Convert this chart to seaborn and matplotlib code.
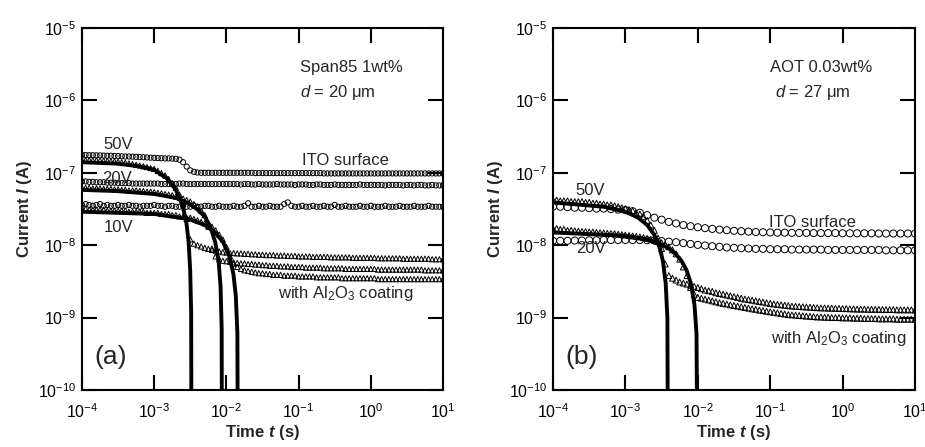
import numpy as np
import matplotlib
matplotlib.use('Agg')
import matplotlib.pyplot as plt
import seaborn as sns
from matplotlib.ticker import LogLocator, NullLocator

# log10(time / s) sampling of the measured points
T_LOG_FINE = [-4.00, -3.95, -3.90, -3.85, -3.80, -3.75, -3.70, -3.65, -3.60, -3.55,
              -3.50, -3.45, -3.40, -3.35, -3.30, -3.25, -3.20, -3.15, -3.10, -3.05,
              -3.00, -2.95, -2.90, -2.85, -2.80, -2.75, -2.70, -2.65, -2.60, -2.55,
              -2.50, -2.45, -2.40, -2.35, -2.30, -2.25, -2.20, -2.15, -2.10, -2.05,
              -2.00, -1.95, -1.90, -1.85, -1.80, -1.75, -1.70, -1.65, -1.60, -1.55,
              -1.50, -1.45, -1.40, -1.35, -1.30, -1.25, -1.20, -1.15, -1.10, -1.05,
              -1.00, -0.95, -0.90, -0.85, -0.80, -0.75, -0.70, -0.65, -0.60, -0.55,
              -0.50, -0.45, -0.40, -0.35, -0.30, -0.25, -0.20, -0.15, -0.10, -0.05,
              0.00, 0.05, 0.10, 0.15, 0.20, 0.25, 0.30, 0.35, 0.40, 0.45,
              0.50, 0.55, 0.60, 0.65, 0.70, 0.75, 0.80, 0.85, 0.90, 0.95,
              1.00]
T_LOG_COARSE = [-4.0, -3.9, -3.8, -3.7, -3.6, -3.5, -3.4, -3.3, -3.2, -3.1,
                -3.0, -2.9, -2.8, -2.7, -2.6, -2.5, -2.4, -2.3, -2.2, -2.1,
                -2.0, -1.9, -1.8, -1.7, -1.6, -1.5, -1.4, -1.3, -1.2, -1.1,
                -1.0, -0.9, -0.8, -0.7, -0.6, -0.5, -0.4, -0.3, -0.2, -0.1,
                0.0, 0.1, 0.2, 0.3, 0.4, 0.5, 0.6, 0.7, 0.8, 0.9,
                1.0]

# ---- panel (a): Span85 1wt%, currents in nA ----
ITO50_A = [176, 176, 175, 175, 174, 174, 173, 172, 172, 171,
           170, 169, 168, 168, 167, 166, 165, 164, 163, 162,
           161, 160, 159, 158, 158, 157, 156, 152, 140, 122,
           108, 103, 101, 100, 100, 100, 100, 100, 100, 100,
           100, 100, 100, 100, 100, 100, 100, 100, 99, 99,
           99, 99, 99, 99, 99, 99, 99, 99, 99, 99,
           99, 99, 99, 99, 99, 99, 99, 98, 98, 98,
           98, 98, 98, 98, 98, 98, 98, 98, 98, 98,
           98, 98, 98, 98, 98, 98, 98, 98, 98, 98,
           98, 98, 98, 98, 98, 98, 98, 98, 98, 98,
           98]
ITO20_A = [76, 76, 75, 75, 74, 74, 74, 73, 73, 73,
           72, 72, 72, 72, 71, 71, 71, 71, 71, 71,
           71, 71, 70, 70, 70, 70, 70, 71, 71, 70,
           70, 70, 70, 70, 70, 70, 70, 70, 70, 70,
           70, 70, 70, 70, 69, 70, 70, 69, 69, 70,
           69, 69, 69, 69, 70, 69, 69, 69, 69, 68,
           69, 69, 69, 68, 68, 69, 69, 68, 68, 68,
           69, 68, 68, 68, 68, 68, 68, 69, 68, 68,
           68, 68, 68, 68, 67, 68, 68, 68, 68, 67,
           68, 68, 67, 68, 68, 67, 67, 68, 67, 67,
           67]
ITO10_A = [36, 37, 36, 35, 36, 37, 35, 36, 35, 35,
           36, 35, 35, 36, 35, 35, 34, 35, 35, 35,
           36, 35, 35, 34, 35, 35, 34, 34, 35, 34,
           34, 35, 34, 34, 35, 35, 34, 34, 35, 34,
           34, 34, 35, 34, 34, 35, 38, 34, 34, 35,
           34, 34, 35, 34, 34, 34, 37, 39, 35, 34,
           34, 35, 34, 34, 35, 34, 34, 35, 34, 34,
           36, 34, 34, 35, 34, 34, 34, 35, 34, 34,
           35, 34, 34, 34, 35, 34, 34, 34, 35, 34,
           34, 34, 35, 34, 34, 34, 35, 34, 34, 34,
           34]
AL50_A = [150, 150, 150, 149, 149, 148, 147, 146, 145, 144,
          142, 140, 138, 135, 132, 129, 126, 123, 120, 116,
          113, 106, 99, 92, 82, 72, 62, 50, 37, 23,
          12, 10.5, 10, 9.6, 9.2, 8.9, 8.6, 8.4, 8.2, 8.0,
          7.9, 7.8, 7.8, 7.7, 7.7, 7.6, 7.6, 7.5, 7.5, 7.4,
          7.4, 7.3, 7.3, 7.3, 7.2, 7.2, 7.2, 7.1, 7.1, 7.1,
          7.0, 7.0, 7.0, 7.0, 6.9, 6.9, 6.9, 6.9, 6.9, 6.8,
          6.8, 6.8, 6.8, 6.8, 6.8, 6.7, 6.7, 6.7, 6.7, 6.7,
          6.7, 6.7, 6.6, 6.6, 6.6, 6.6, 6.6, 6.6, 6.6, 6.5,
          6.5, 6.5, 6.5, 6.5, 6.5, 6.5, 6.5, 6.4, 6.4, 6.4,
          6.4]
AL20_A = [62, 62, 62, 61, 61, 61, 60, 60, 60, 59,
          59, 58, 58, 57, 57, 57, 56, 56, 55, 55,
          54, 53, 52, 51, 50, 49, 47, 46, 44, 42,
          40, 37, 34, 30, 26, 18, 9, 7.0, 6.4, 6.1,
          6.0, 5.9, 5.8, 5.7, 5.6, 5.6, 5.5, 5.5, 5.4, 5.4,
          5.3, 5.3, 5.2, 5.2, 5.2, 5.1, 5.1, 5.1, 5.0, 5.0,
          5.0, 5.0, 4.9, 4.9, 4.9, 4.9, 4.9, 4.8, 4.8, 4.8,
          4.8, 4.8, 4.8, 4.7, 4.7, 4.7, 4.7, 4.7, 4.7, 4.7,
          4.7, 4.7, 4.6, 4.6, 4.6, 4.6, 4.6, 4.6, 4.6, 4.6,
          4.6, 4.6, 4.6, 4.6, 4.6, 4.5, 4.5, 4.5, 4.5, 4.5,
          4.5]
AL10_A = [32, 32, 31, 31, 31, 31, 31, 30, 30, 30,
          30, 30, 30, 29, 29, 29, 29, 29, 28, 28,
          28, 28, 27, 27, 27, 26, 26, 25, 25, 24,
          24, 23, 22, 21, 20, 19, 18, 16, 14, 12,
          9.5, 7.0, 5.5, 5.0, 4.7, 4.5, 4.4, 4.3, 4.2, 4.1,
          4.1, 4.0, 4.0, 3.9, 3.9, 3.9, 3.8, 3.8, 3.8, 3.8,
          3.7, 3.7, 3.7, 3.7, 3.7, 3.6, 3.6, 3.6, 3.6, 3.6,
          3.6, 3.6, 3.5, 3.5, 3.5, 3.5, 3.5, 3.5, 3.5, 3.5,
          3.5, 3.5, 3.4, 3.4, 3.4, 3.4, 3.4, 3.4, 3.4, 3.4,
          3.4, 3.4, 3.4, 3.4, 3.4, 3.4, 3.4, 3.4, 3.4, 3.4,
          3.4]
# fitted curves (time in s, current in nA)
FIT50_A_T = [1e-4, 3e-4, 6e-4, 1e-3, 1.5e-3, 2e-3, 2.5e-3, 2.8e-3, 3.0e-3, 3.15e-3, 3.25e-3, 3.3e-3]
FIT50_A_I = [140, 134, 124, 110, 84, 58, 34, 20, 11, 4.5, 1.2, 0.001]
FIT20_A_T = [1e-4, 3e-4, 1e-3, 2e-3, 3e-3, 4e-3, 5e-3, 6e-3, 7e-3, 7.8e-3, 8.3e-3, 8.6e-3, 8.7e-3]
FIT20_A_I = [58, 56, 51, 45, 38, 31, 25, 18, 11, 6, 2.7, 0.7, 0.001]
FIT10_A_T = [1e-4, 1e-3, 3e-3, 5e-3, 7e-3, 9e-3, 1.1e-2, 1.25e-2, 1.35e-2, 1.42e-2, 1.45e-2]
FIT10_A_I = [29, 27, 23, 19, 15, 11, 7, 4, 2, 0.6, 0.001]

# ---- panel (b): AOT 0.03wt%, currents in nA ----
ITO50_B = [34, 34, 33.5, 33, 33, 32.5, 32, 32, 31.5, 31,
           30.5, 29.5, 28, 26, 24, 22.5, 21, 20, 19, 18.3,
           17.7, 17.2, 16.8, 16.4, 16.1, 15.8, 15.6, 15.4, 15.2, 15.1,
           15.0, 14.9, 14.9, 14.8, 14.8, 14.8, 14.7, 14.7, 14.7, 14.7,
           14.6, 14.6, 14.6, 14.6, 14.6, 14.5, 14.5, 14.5, 14.5, 14.5,
           14.5]
ITO20_B = [11.5, 11.5, 11.5, 11.6, 11.6, 11.7, 11.7, 11.8, 11.8, 11.8,
           11.8, 11.8, 11.8, 11.7, 11.6, 11.4, 11.2, 11.0, 10.7, 10.4,
           10.1, 9.9, 9.7, 9.5, 9.3, 9.2, 9.1, 9.0, 8.9, 8.9,
           8.8, 8.8, 8.8, 8.7, 8.7, 8.7, 8.7, 8.7, 8.6, 8.6,
           8.6, 8.6, 8.6, 8.6, 8.6, 8.6, 8.5, 8.5, 8.5, 8.5,
           8.5]
AL50_B = [42, 42, 41, 41, 41, 40, 40, 40, 40, 39,
          39, 38, 38, 37, 37, 36, 36, 35, 34, 33,
          32, 31, 30, 28, 27, 25, 22, 19, 16, 12.5,
          9, 5.5, 3.8, 3.5, 3.3, 3.1, 3.0, 2.9, 2.8, 2.7,
          2.6, 2.5, 2.4, 2.35, 2.3, 2.2, 2.15, 2.1, 2.05, 2.0,
          1.95, 1.9, 1.85, 1.8, 1.77, 1.74, 1.7, 1.67, 1.64, 1.6,
          1.57, 1.54, 1.52, 1.5, 1.48, 1.46, 1.44, 1.43, 1.42, 1.41,
          1.4, 1.39, 1.38, 1.37, 1.36, 1.36, 1.35, 1.35, 1.34, 1.34,
          1.33, 1.33, 1.32, 1.32, 1.31, 1.31, 1.31, 1.3, 1.3, 1.3,
          1.3, 1.29, 1.29, 1.29, 1.29, 1.28, 1.28, 1.28, 1.28, 1.28,
          1.27]
AL20_B = [17, 17, 16.5, 16.5, 16, 16, 15.8, 15.6, 15.5, 15.4,
          15.3, 15.2, 15.0, 14.9, 14.8, 14.6, 14.5, 14.4, 14.2, 14.0,
          13.8, 13.6, 13.4, 13.2, 13.0, 12.7, 12.4, 12.1, 11.7, 11.3,
          10.8, 10.2, 9.5, 8.6, 7.6, 6.4, 5.0, 3.8, 2.6, 2.1,
          1.9, 1.85, 1.8, 1.75, 1.7, 1.65, 1.6, 1.57, 1.54, 1.5,
          1.47, 1.44, 1.41, 1.38, 1.35, 1.32, 1.3, 1.27, 1.25, 1.22,
          1.2, 1.18, 1.16, 1.14, 1.12, 1.1, 1.09, 1.08, 1.07, 1.06,
          1.05, 1.04, 1.03, 1.02, 1.02, 1.01, 1.01, 1.0, 1.0, 1.0,
          0.99, 0.99, 0.99, 0.98, 0.98, 0.98, 0.97, 0.97, 0.97, 0.97,
          0.96, 0.96, 0.96, 0.96, 0.96, 0.95, 0.95, 0.95, 0.95, 0.95,
          0.95]
FIT50_B_T = [1e-4, 5e-4, 1e-3, 1.5e-3, 2e-3, 2.5e-3, 3e-3, 3.3e-3, 3.6e-3, 3.8e-3, 3.9e-3]
FIT50_B_I = [39, 34, 29, 24, 19, 14, 9, 6, 3, 1, 0.001]
FIT20_B_T = [1e-4, 1e-3, 2e-3, 3e-3, 4e-3, 5e-3, 6e-3, 7e-3, 8e-3, 9e-3, 9.6e-3, 1e-2]
FIT20_B_I = [15, 13.5, 12, 10.5, 9, 7.5, 6, 4.5, 3, 1.5, 0.6, 0.001]

sns.set_style('ticks')
plt.rcParams['font.family'] = ['Liberation Sans', 'DejaVu Sans']
plt.rcParams['mathtext.fontset'] = 'custom'
plt.rcParams['mathtext.rm'] = 'Liberation Sans'
plt.rcParams['mathtext.it'] = 'Liberation Sans:italic'
plt.rcParams['mathtext.bf'] = 'Liberation Sans:bold'
plt.rcParams['mathtext.bfit'] = 'Liberation Sans:italic:bold'

NA = 1e-9


def draw(ax, t_tri, tri, t_cir, cir, fits, s_cir, s_tri):
    tt = 10 ** np.array(t_tri)
    tc = 10 ** np.array(t_cir)
    for y in tri:
        sns.scatterplot(x=tt, y=np.array(y) * NA, ax=ax, marker='^', s=s_tri,
                        facecolor='none', edgecolor='black', linewidth=0.7,
                        legend=False, zorder=2)
    for y in cir:
        sns.scatterplot(x=tc, y=np.array(y) * NA, ax=ax, marker='o', s=s_cir,
                        facecolor='none', edgecolor='black', linewidth=0.7,
                        legend=False, zorder=3)
    for ft, fi in fits:
        sns.lineplot(x=ft, y=np.array(fi) * NA, ax=ax, color='black', lw=2.8,
                     sort=False, estimator=None, zorder=4)
    ax.set_xscale('log')
    ax.set_yscale('log')
    ax.set_xlim(1e-4, 1e1)
    ax.set_ylim(1e-10, 1e-5)
    ax.xaxis.set_major_locator(LogLocator(base=10, numticks=10))
    ax.yaxis.set_major_locator(LogLocator(base=10, numticks=10))
    ax.xaxis.set_minor_locator(NullLocator())
    ax.yaxis.set_minor_locator(NullLocator())
    ax.xaxis.offsetText.set_visible(False)
    ax.yaxis.offsetText.set_visible(False)
    ax.tick_params(which='major', direction='in', length=11, width=1.5,
                   top=True, right=True, labelsize=11.5, colors='black')
    ax.tick_params(axis='x', pad=9)
    ax.tick_params(axis='y', pad=4)
    for sp in ax.spines.values():
        sp.set_linewidth(1.5)
        sp.set_color('black')
    ax.set_xlabel(r'Time $\mathbfit{t}$ (s)', fontsize=12, fontweight='bold', labelpad=1)
    ax.set_ylabel(r'Current $\mathbfit{I}$ (A)', fontsize=12, fontweight='bold', labelpad=3)


fig = plt.figure(figsize=(9.25, 4.47), dpi=100)
ax1 = fig.add_axes([82 / 925, 57 / 447, 361 / 925, 362 / 447])
ax2 = fig.add_axes([553 / 925, 57 / 447, 362 / 925, 362 / 447])

draw(ax1, T_LOG_FINE, [AL10_A, AL20_A, AL50_A], T_LOG_FINE, [ITO10_A, ITO20_A, ITO50_A],
     [(FIT50_A_T, FIT50_A_I), (FIT20_A_T, FIT20_A_I), (FIT10_A_T, FIT10_A_I)], 14, 14)
draw(ax2, T_LOG_FINE, [AL20_B, AL50_B], T_LOG_COARSE, [ITO20_B, ITO50_B],
     [(FIT50_B_T, FIT50_B_I), (FIT20_B_T, FIT20_B_I)], 26, 18)

fs = 12
tr = ax1.transAxes
ax1.text(0.100, 0.677, '50V', transform=tr, fontsize=fs, ha='center', va='center')
ax1.text(0.097, 0.583, '20V', transform=tr, fontsize=fs, ha='center', va='center')
ax1.text(0.102, 0.448, '10V', transform=tr, fontsize=fs, ha='center', va='center')
ax1.text(0.729, 0.633, 'ITO surface', transform=tr, fontsize=fs, ha='center', va='center')
ax1.text(0.604, 0.892, 'Span85 1wt%', transform=tr, fontsize=fs, ha='left', va='center')
ax1.text(0.604, 0.823, '$d$ = 20 μm', transform=tr, fontsize=fs, ha='left', va='center')
ax1.text(0.543, 0.254, 'with Al$_2$O$_3$ coating', transform=tr, fontsize=fs, ha='left', va='baseline')
ax1.text(0.080, 0.091, '(a)', transform=tr, fontsize=19, ha='center', va='center')

tr = ax2.transAxes
ax2.text(0.599, 0.890, 'AOT 0.03wt%', transform=tr, fontsize=fs, ha='left', va='center')
ax2.text(0.613, 0.823, '$d$ = 27 μm', transform=tr, fontsize=fs, ha='left', va='center')
ax2.text(0.102, 0.552, '50V', transform=tr, fontsize=fs, ha='center', va='center')
ax2.text(0.105, 0.392, '20V', transform=tr, fontsize=fs, ha='center', va='center')
ax2.text(0.718, 0.464, 'ITO surface', transform=tr, fontsize=fs, ha='center', va='center')
ax2.text(0.602, 0.130, 'with Al$_2$O$_3$ coating', transform=tr, fontsize=fs, ha='left', va='baseline')
ax2.text(0.080, 0.091, '(b)', transform=tr, fontsize=19, ha='center', va='center')

fig.savefig('out.png', dpi=100, facecolor='white')
